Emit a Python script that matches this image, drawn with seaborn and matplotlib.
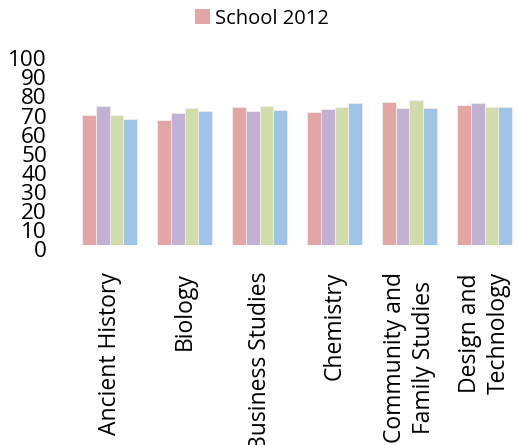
import matplotlib
matplotlib.use("Agg")
import matplotlib.pyplot as plt
import matplotlib.transforms as mtransforms
import seaborn as sns
import pandas as pd

# Average results per subject for four cohorts
subjects = ["Ancient History", "Biology", "Business Studies", "Chemistry",
            "Community and\nFamily Studies", "Design and\nTechnology"]
series_names = ["School 2012", "School 2011", "State 2012", "State 2011"]
school_2012 = [68.2, 65.8, 72.4, 69.8, 75.0, 73.3]
school_2011 = [73.0, 69.3, 70.5, 71.4, 72.1, 74.5]
state_2012 = [68.2, 71.7, 72.8, 72.4, 76.1, 72.6]
state_2011 = [66.1, 70.5, 70.9, 74.5, 71.9, 72.3]
y_ticks = [0, 10, 20, 30, 40, 50, 60, 70, 80, 90, 100]

colors = ["#E3A6A5", "#C1B2D4", "#D0DDAA", "#A0C3E8"]

rows = []
for name, vals in zip(series_names, [school_2012, school_2011, state_2012, state_2011]):
    for subj, v in zip(subjects, vals):
        rows.append({"Subject": subj, "Series": name, "Score": v})
df = pd.DataFrame(rows)

sns.set_theme(style="white")
plt.rcParams["font.family"] = ["Open Sans", "DejaVu Sans"]
plt.rcParams["text.color"] = "black"

W, H = 518, 445
fig = plt.figure(figsize=(W / 100, H / 100), dpi=100)
ax_left, ax_bottom, ax_top = 72, 245.3, 54.3
ax = fig.add_axes([ax_left / W, (H - ax_bottom) / H, (W - ax_left) / W, (ax_bottom - ax_top) / H])

sns.barplot(data=df, x="Subject", y="Score", hue="Series", order=subjects,
            hue_order=series_names, palette=colors, saturation=1, width=0.73, ax=ax,
            edgecolor="#F4ECEC", linewidth=0.6, legend=False, errorbar=None)

pitch = 75.0
ax.set_xlim(-0.5, -0.5 + (W - ax_left) / pitch)
ax.set_ylim(0, 100)
ax.set_yticks(y_ticks)
ax.set_yticklabels([str(t) for t in y_ticks], fontsize=16.2, color="black")
ax.tick_params(axis="y", length=0, pad=18)
ax.tick_params(axis="x", length=0, pad=19)
ax.set_xticks(range(len(subjects)))
ax.set_xticklabels(subjects, rotation=90, fontsize=16.5, color="black",
                   ha="center", va="top", multialignment="center", linespacing=1.3)
for lbl in ax.get_yticklabels():
    lbl.set_transform(lbl.get_transform() +
                      mtransforms.ScaledTranslation(0, -4 / 100, fig.dpi_scale_trans))
ax.set_xlabel("")
ax.set_ylabel("")
for s in ax.spines.values():
    s.set_visible(False)
ax.grid(False)

# Legend shows the first series only
handle = plt.Rectangle((0, 0), 1, 1, facecolor=colors[0], edgecolor="none")
fig.legend([handle], [series_names[0]], loc="center", bbox_to_anchor=(262 / W, 1 - 18.5 / H),
           frameon=False, fontsize=14.5, handlelength=0.7, handleheight=0.7,
           handletextpad=0.25, borderaxespad=0, borderpad=0, labelcolor="black")

fig.savefig("out.png", dpi=100)
